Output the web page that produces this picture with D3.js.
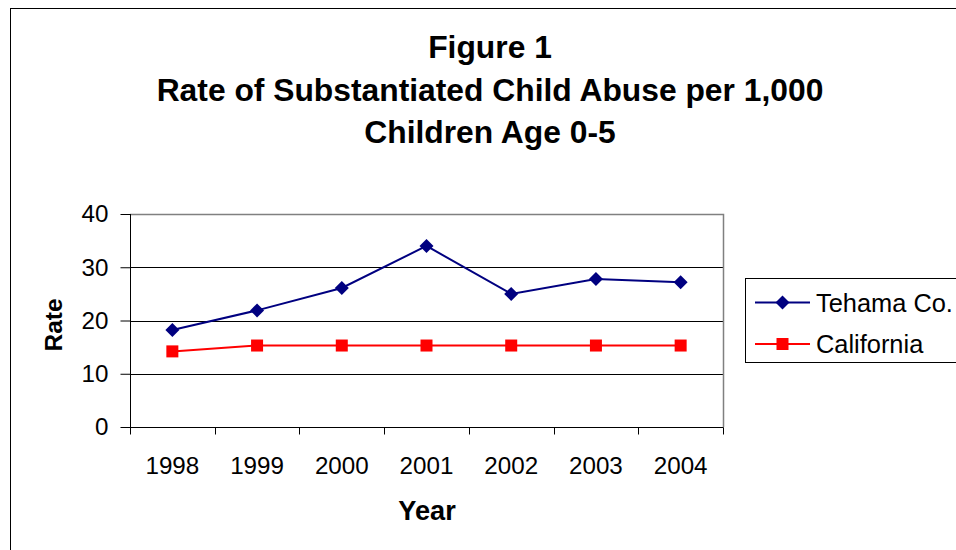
<!DOCTYPE html>
<html>
<head>
<meta charset="utf-8">
<script src="https://cdn.jsdelivr.net/npm/d3@7"></script>
<style>
  html, body { margin: 0; padding: 0; background: #fff; }
  svg { display: block; font-family: "Liberation Sans", Arial, sans-serif; }
</style>
</head>
<body>
<svg id="chart" width="956" height="550"></svg>
<script>
// Rates of substantiated child abuse per 1,000 children age 0-5
const years = ["1998", "1999", "2000", "2001", "2002", "2003", "2004"];
const tehama = [18.2, 21.9, 26.1, 34.0, 25.0, 27.8, 27.2];
const california = [14.2, 15.3, 15.3, 15.3, 15.3, 15.3, 15.3];
const yTicks = [0, 10, 20, 30, 40];
const titleLines = ["Figure 1", "Rate of Substantiated Child Abuse per 1,000", "Children Age 0-5"];

const svg = d3.select("#chart");

// Outer chart frame (runs off the right and bottom edges)
svg.append("rect")
  .attr("x", 10.5).attr("y", 8.5)
  .attr("width", 1000).attr("height", 600)
  .attr("fill", "#fff").attr("stroke", "#000").attr("stroke-width", 1);

const plot = { left: 130, top: 214, right: 723, bottom: 427 };

const x = d3.scaleBand().domain(years).range([plot.left, plot.right]).paddingInner(0).paddingOuter(0);
const y = d3.scaleLinear().domain([0, 40]).range([plot.bottom, plot.top]);

// Title
svg.append("g").selectAll("text").data(titleLines).join("text")
  .attr("x", 490)
  .attr("y", (d, i) => 58 + i * 42.5)
  .attr("text-anchor", "middle")
  .attr("font-weight", "bold")
  .attr("font-size", 31.8)
  .attr("fill", "#000")
  .text(d => d);

// Horizontal gridlines
svg.append("g").selectAll("line").data(yTicks.filter(v => v > 0 && v < 40)).join("line")
  .attr("x1", plot.left).attr("x2", plot.right)
  .attr("y1", d => Math.round(y(d)) + 0.5).attr("y2", d => Math.round(y(d)) + 0.5)
  .attr("stroke", "#000").attr("stroke-width", 1);

// Plot area border (top and right) in grey
svg.append("path")
  .attr("d", `M${plot.left},${plot.top + 0.5}H${plot.right + 0.5}V${plot.bottom}`)
  .attr("fill", "none").attr("stroke", "#808080").attr("stroke-width", 1.5);

// Y axis
const yAxis = svg.append("g")
  .attr("transform", `translate(${plot.left + 0.5},0)`)
  .call(d3.axisLeft(y).tickValues(yTicks).tickSize(10).tickPadding(12).tickFormat(d3.format("d")));
yAxis.select(".domain").attr("stroke", "#000").attr("d", `M0,${plot.top}V${plot.bottom + 7}`);
yAxis.selectAll(".tick line").attr("stroke", "#000");
yAxis.selectAll(".tick text").attr("font-size", 24.2).attr("fill", "#000")
  .attr("font-family", "'Liberation Sans', Arial, sans-serif");

// X axis: ticks sit between categories, labels centred on categories
const xAxisG = svg.append("g").attr("transform", `translate(0,${plot.bottom + 0.5})`);
xAxisG.append("line")
  .attr("x1", plot.left).attr("x2", plot.right + 0.5)
  .attr("stroke", "#000");
const boundaries = years.map(d => x(d)).concat([x(years[years.length - 1]) + x.bandwidth()]);
xAxisG.selectAll("line.tick").data(boundaries).join("line")
  .attr("class", "tick")
  .attr("x1", d => Math.round(d) + 0.5).attr("x2", d => Math.round(d) + 0.5)
  .attr("y1", 0).attr("y2", 7)
  .attr("stroke", "#000");
xAxisG.selectAll("text").data(years).join("text")
  .attr("x", d => x(d) + x.bandwidth() / 2)
  .attr("y", 46)
  .attr("text-anchor", "middle")
  .attr("font-size", 24.2)
  .attr("fill", "#000")
  .text(d => d);

// Axis titles
svg.append("text")
  .attr("transform", `translate(62,325) rotate(-90)`)
  .attr("text-anchor", "middle")
  .attr("font-weight", "bold").attr("font-size", 24.5)
  .text("Rate");
svg.append("text")
  .attr("x", 427).attr("y", 520)
  .attr("text-anchor", "middle")
  .attr("font-weight", "bold").attr("font-size", 27.2)
  .text("Year");

const cx = d => x(d) + x.bandwidth() / 2;
const line = d3.line().x(d => cx(d.year)).y(d => y(d.value));

const series = [
  { name: "Tehama Co.", values: tehama, color: "#000080", symbol: "diamond" },
  { name: "California", values: california, color: "#ff0000", symbol: "square" }
];

function drawMarker(g, s, px, py) {
  if (s.symbol === "diamond") {
    g.append("path")
      .attr("d", `M${px},${py - 7}L${px + 7},${py}L${px},${py + 7}L${px - 7},${py}Z`)
      .attr("fill", s.color);
  } else {
    g.append("rect")
      .attr("x", px - 6).attr("y", py - 6).attr("width", 12).attr("height", 12)
      .attr("fill", s.color);
  }
}

series.forEach(s => {
  const pts = years.map((yr, i) => ({ year: yr, value: s.values[i] }));
  const g = svg.append("g");
  g.append("path").datum(pts)
    .attr("d", line)
    .attr("fill", "none").attr("stroke", s.color).attr("stroke-width", 2);
  pts.forEach(p => drawMarker(g, s, cx(p.year), y(p.value)));
});

// Legend
const legend = svg.append("g");
legend.append("rect")
  .attr("x", 745.5).attr("y", 278.5).attr("width", 240).attr("height", 84)
  .attr("fill", "#fff").attr("stroke", "#000").attr("stroke-width", 1);
series.forEach((s, i) => {
  const ly = 302.5 + i * 41.5;
  legend.append("line")
    .attr("x1", 755).attr("x2", 810).attr("y1", ly).attr("y2", ly)
    .attr("stroke", s.color).attr("stroke-width", 2);
  drawMarker(legend, s, 782.5, ly);
  legend.append("text")
    .attr("x", 816).attr("y", ly + 9)
    .attr("font-size", 25.4).attr("fill", "#000")
    .text(s.name);
});
</script>
</body>
</html>
